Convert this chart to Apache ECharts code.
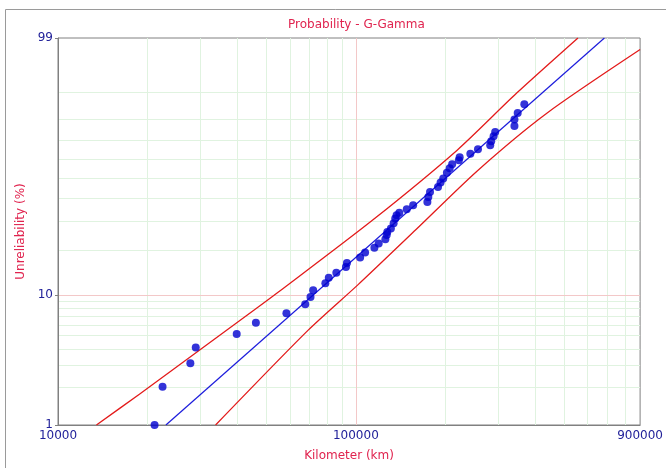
<!DOCTYPE html>
<html><head><meta charset="utf-8">
<script src="https://cdn.jsdelivr.net/npm/echarts@6/dist/echarts.min.js"></script>
<style>html,body{margin:0;padding:0;background:#fff;overflow:hidden}#c{width:666px;height:468px}</style>
</head><body><div id="c"></div>
<script>
// ---- data ----
const failureKm = [21100, 22440, 27820, 29000, 39810, 46170, 58460, 67610, 70420, 71890,
  79000, 81100, 85990, 92610, 93330, 103350, 107400, 115400, 119300, 125600,
  126900, 127500, 131100, 133900, 135600, 137000, 139900, 148200, 155700, 173800,
  175100, 177400, 188700, 192500, 196500, 202100, 206500, 210500, 221700, 223100,
  242300, 257000, 282500, 284700, 290000, 293600, 340700, 340700, 349400, 367800];
const unreliabilityPct = [1.0, 2.03, 3.1, 4.1, 5.2, 6.3, 7.4, 8.6, 9.7, 10.8,
  12.1, 13.2, 14.3, 15.6, 16.6, 18.0, 19.4, 20.8, 22.1, 23.5,
  24.9, 26.0, 27.3, 29.2, 31.1, 32.5, 33.5, 35.0, 36.8, 38.3,
  40.6, 43.0, 45.5, 47.7, 49.8, 52.8, 55.1, 57.2, 59.4, 61.0,
  62.8, 65.2, 67.3, 69.4, 71.9, 74.0, 76.9, 79.8, 82.6, 86.0];
const fitKm = [23030, 683000];
const fitPct = [1, 99];
const upperKm = [13460, 18760, 47140, 54950, 113900, 218800, 346700, 556700];
const upperPct = [1, 1.77, 8.24, 10.5, 30.5, 64.7, 89.8, 99];
const lowerKm = [33810, 69180, 101550, 158900, 255000, 436500, 900000];
const lowerPct = [1, 5.55, 11.8, 26.8, 53.6, 82.4, 98.15];
const xTickLabels = [10000, 100000, 900000];
const yTickLabels = [1, 10, 99];
const xGridMinor = [20000, 30000, 40000, 50000, 60000, 70000, 80000, 90000,
  200000, 300000, 400000, 500000, 600000, 700000, 800000];
const xGridMajor = [100000];
const yGridMinor = [2, 3, 4, 5, 6, 7, 8, 9, 20, 30, 40, 50, 60, 70, 80, 90];
const yGridMajor = [10];

// G-Gamma probability scale (gamma shape 2 quantile, log)
function gamma2Quantile(p) {
  let lo = Math.log(1e-8), hi = Math.log(80);
  for (let i = 0; i < 200; i++) {
    const m = (lo + hi) / 2, q = Math.exp(m);
    const F = 1 - Math.exp(-q) * (1 + q);
    if (F < p) lo = m; else hi = m;
  }
  return Math.exp((lo + hi) / 2);
}
function yScale(pct) { return Math.log(gamma2Quantile(pct / 100)); }

const navy = '#22229a', crimson = '#e0244f', axisGray = '#808080';
const FONT = 'DejaVu Sans';
const pairs = (xs, ps) => xs.map((x, i) => [x, yScale(ps[i])]);

const minorStyle = { color: '#e0f3e0', width: 1, type: 'solid' };
const majorStyle = { color: '#f3c8c8', width: 1, type: 'solid' };
const gridLines = [];
xGridMinor.forEach(v => gridLines.push({ xAxis: v, lineStyle: minorStyle }));
yGridMinor.forEach(p => gridLines.push({ yAxis: yScale(p), lineStyle: minorStyle }));
xGridMajor.forEach(v => gridLines.push({ xAxis: v, lineStyle: majorStyle }));
yGridMajor.forEach(p => gridLines.push({ yAxis: yScale(p), lineStyle: majorStyle }));

const chart = echarts.init(document.getElementById('c'), null, { renderer: 'canvas' });
chart.setOption({
  animation: false,
  backgroundColor: '#fff',
  textStyle: { fontFamily: FONT },
  title: { text: 'Probability - G-Gamma', left: 283, top: 14,
    textStyle: { color: crimson, fontSize: 12, fontWeight: 'normal', fontFamily: FONT } },
  graphic: [
    { type: 'line', silent: true, z: -1, shape: { x1: 5.5, y1: 9.5, x2: 666, y2: 9.5 },
      style: { stroke: '#9a9a9a', lineWidth: 1 } },
    { type: 'line', silent: true, z: -1, shape: { x1: 5.5, y1: 9.5, x2: 5.5, y2: 468 },
      style: { stroke: '#9a9a9a', lineWidth: 1 } }
  ],
  grid: { left: 58, top: 38, right: 21.5, bottom: 43, show: true, borderColor: axisGray, borderWidth: 1, containLabel: false },
  xAxis: {
    type: 'log', logBase: 10, min: xTickLabels[0], max: xTickLabels[xTickLabels.length - 1],
    name: 'Kilometer (km)', nameLocation: 'middle', nameGap: 25,
    nameTextStyle: { color: crimson, fontSize: 12, fontFamily: FONT },
    axisLine: { show: true, onZero: false, lineStyle: { color: axisGray } },
    axisTick: { show: false },
    splitLine: { show: false }, minorSplitLine: { show: false },
    axisLabel: { color: navy, fontSize: 12, fontFamily: FONT, margin: 5,
      formatter: v => String(Math.round(v)) }
  },
  yAxis: {
    type: 'value', min: yScale(yTickLabels[0]), max: yScale(yTickLabels[yTickLabels.length - 1]),
    name: 'Unreliability (%)', nameLocation: 'middle', nameGap: 31,
    nameTextStyle: { color: crimson, fontSize: 12, fontFamily: FONT },
    axisLine: { show: true, onZero: false, lineStyle: { color: axisGray } },
    axisTick: { show: true, length: 3, lineStyle: { color: axisGray }, customValues: yTickLabels.map(yScale) },
    splitLine: { show: false },
    axisLabel: { color: navy, fontSize: 12, fontFamily: FONT, margin: 5,
      customValues: yTickLabels.map(yScale),
      formatter: v => {
        let best = yTickLabels[0], d = Infinity;
        yTickLabels.forEach(p => { const dd = Math.abs(yScale(p) - v); if (dd < d) { d = dd; best = p; } });
        return String(best);
      } }
  },
  series: [
    { type: 'line', data: [], silent: true, z: 0,
      markLine: { silent: true, z: 0, symbol: ['none', 'none'], label: { show: false }, animation: false,
        emphasis: { disabled: true }, data: gridLines } },
    { type: 'line', data: pairs(upperKm, upperPct), smooth: 0.25, symbol: 'none', z: 3,
      lineStyle: { color: '#e31b1b', width: 1.3 } },
    { type: 'line', data: pairs(lowerKm, lowerPct), smooth: 0.25, symbol: 'none', z: 3,
      lineStyle: { color: '#e31b1b', width: 1.3 } },
    { type: 'line', data: pairs(fitKm, fitPct), symbol: 'none', z: 3,
      lineStyle: { color: '#1c1cdc', width: 1.2 } },
    { type: 'scatter', data: pairs(failureKm, unreliabilityPct), symbol: 'circle', symbolSize: 8, z: 4,
      itemStyle: { color: '#0000d0' } }
  ]
});
</script></body></html>
